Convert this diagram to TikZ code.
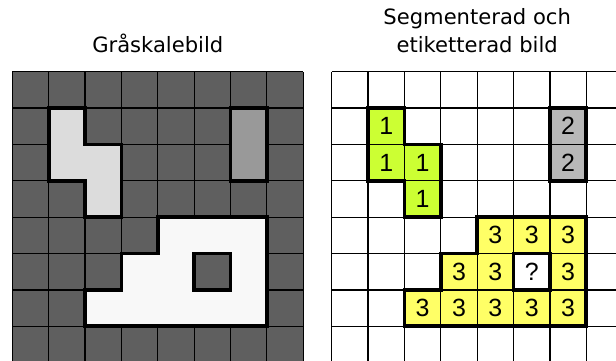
\documentclass[tikz,border=0pt]{standalone}
\usepackage{fontspec}
\setmainfont{DejaVu Sans}
\newfontfamily\digitfont{Liberation Sans}
\usepackage{xcolor}
\usetikzlibrary{positioning}
\definecolor{darkgray}{HTML}{5F5F5F}
\definecolor{lightgray}{HTML}{DCDCDC}
\definecolor{midgray}{HTML}{999999}
\definecolor{nearwhite}{HTML}{F8F8F8}
\definecolor{limegreen}{HTML}{CCFF33}
\definecolor{labelgray}{HTML}{B8B8B8}
\definecolor{lightyellow}{HTML}{FFFF66}

\tikzset{
  thinline/.style={line width=0.9pt, black},
  thickline/.style={line width=3pt, black, line join=miter},
  celllabel/.style={font=\digitfont\fontsize{19.5}{22}\selectfont, inner sep=0pt},
  titletext/.style={font=\fontsize{16.5}{20}\selectfont, inner sep=0pt, anchor=base}
}

\begin{document}
\begin{tikzpicture}[x=1cm, y=1cm]
    \useasboundingbox (-0.338,1.971) rectangle (16.597,-7.953);
    \clip (-0.338,1.971) rectangle (16.597,-7.953);
    % titles
    \node[titletext] (titlegray) at (4,0.53) {Gråskalebild};
    \node[titletext] (titlelabelA) at (12.781,1.30) {Segmenterad och};
    \node[titletext] (titlelabelB) at (12.781,0.53) {etiketterad bild};

    % left: grayscale image
    \fill[darkgray] (0,0) rectangle (8,-8);
    \draw[thinline] (0,0) grid (8,-8);
    \fill[lightgray] (1,-1) -- (2,-1) -- (2,-2) -- (3,-2) -- (3,-4) -- (2,-4) -- (2,-3) -- (1,-3) -- cycle;
    \fill[midgray] (6,-1) rectangle (7,-3);
    \fill[nearwhite] (4,-4) -- (7,-4) -- (7,-7) -- (2,-7) -- (2,-6) -- (3,-6) -- (3,-5) -- (4,-5) -- cycle;
    \fill[darkgray] (5,-5) rectangle (6,-6);
    \draw[thickline] (1,-1) -- (2,-1) -- (2,-2) -- (3,-2) -- (3,-4) -- (2,-4) -- (2,-3) -- (1,-3) -- cycle;
    \draw[thickline] (6,-1) rectangle (7,-3);
    \draw[thickline] (4,-4) -- (7,-4) -- (7,-7) -- (2,-7) -- (2,-6) -- (3,-6) -- (3,-5) -- (4,-5) -- cycle;
    \draw[thickline] (5,-5) rectangle (6,-6);

    % right: segmented and labelled image
    \begin{scope}[xshift=8.781cm]
      \fill[white] (0,0) rectangle (8,-8);
      \foreach \c/\r in {2/2, 2/3, 3/3, 3/4}
        \fill[limegreen] (\c-1,-\r+1) rectangle (\c,-\r);
      \foreach \c/\r in {7/2, 7/3}
        \fill[labelgray] (\c-1,-\r+1) rectangle (\c,-\r);
      \foreach \c/\r in {5/5, 6/5, 7/5, 4/6, 5/6, 7/6, 3/7, 4/7, 5/7, 6/7, 7/7}
        \fill[lightyellow] (\c-1,-\r+1) rectangle (\c,-\r);
      \draw[thinline] (0,0) grid (8,-8);
      \draw[thickline] (1,-1) -- (2,-1) -- (2,-2) -- (3,-2) -- (3,-4) -- (2,-4) -- (2,-3) -- (1,-3) -- cycle;
      \draw[thickline] (6,-1) rectangle (7,-3);
      \draw[thickline] (4,-4) -- (7,-4) -- (7,-7) -- (2,-7) -- (2,-6) -- (3,-6) -- (3,-5) -- (4,-5) -- cycle;
      \draw[thickline] (5,-5) rectangle (6,-6);
      % labels
      \foreach \c/\r/\t in {2/2/1, 2/3/1, 3/3/1, 3/4/1,
                            7/2/2, 7/3/2,
                            5/5/3, 6/5/3, 7/5/3, 4/6/3, 5/6/3, 6/6/?, 7/6/3,
                            3/7/3, 4/7/3, 5/7/3, 6/7/3, 7/7/3}
        \node[celllabel] (lab-\c-\r) at (\c-0.5,-\r+0.5) {\t};
    \end{scope}
\end{tikzpicture}
\end{document}
